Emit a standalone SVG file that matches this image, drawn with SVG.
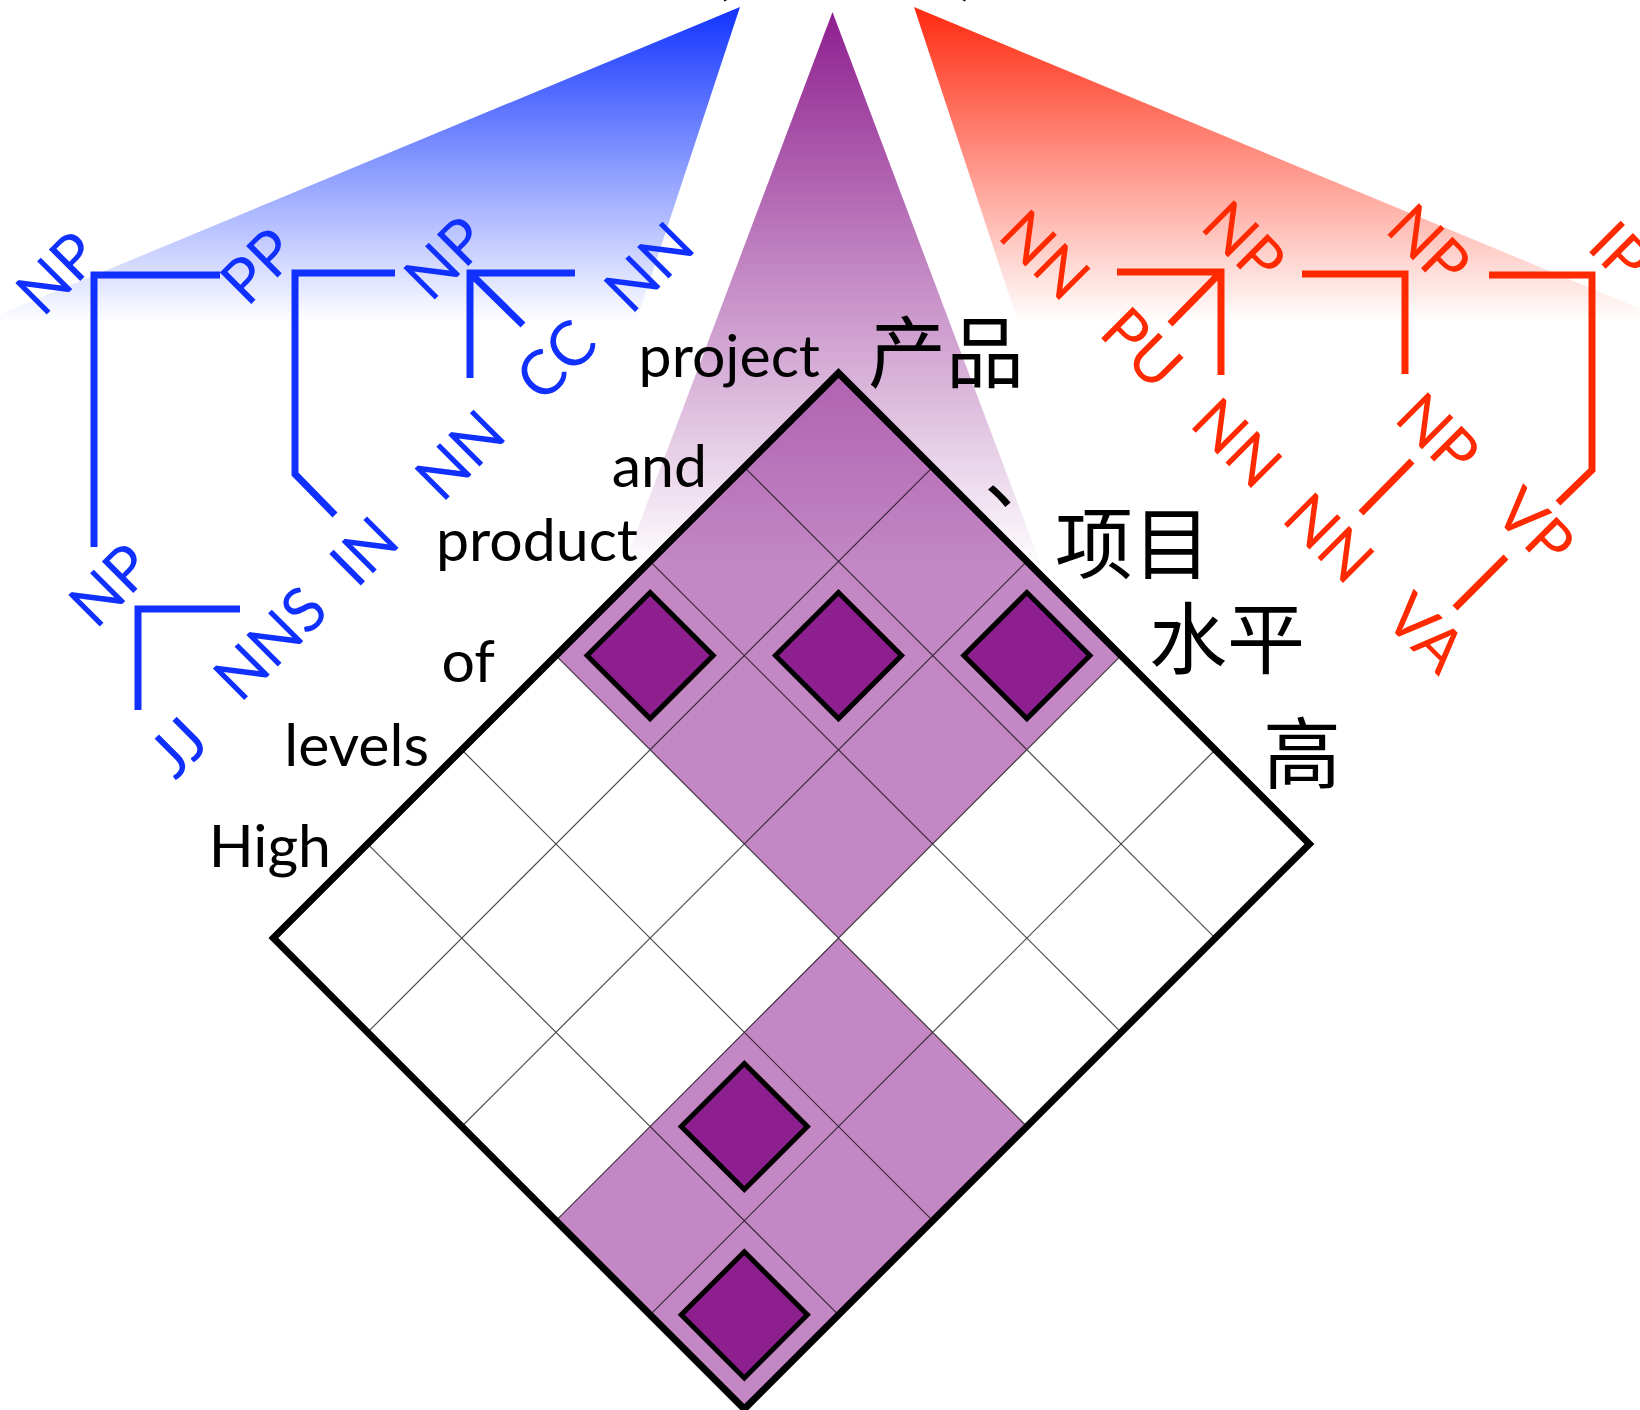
<svg xmlns="http://www.w3.org/2000/svg" width="1640" height="1410" viewBox="0 0 1640 1410">
<defs>
<linearGradient id="gBlue" gradientUnits="userSpaceOnUse" x1="0" y1="7" x2="0" y2="322">
<stop offset="0" stop-color="#1133FF"/>
<stop offset="1" stop-color="#1133FF" stop-opacity="0"/>
</linearGradient>
<linearGradient id="gRed" gradientUnits="userSpaceOnUse" x1="0" y1="7" x2="0" y2="322">
<stop offset="0" stop-color="#FF2A10"/>
<stop offset="1" stop-color="#FF2A10" stop-opacity="0"/>
</linearGradient>
<linearGradient id="gPurple" gradientUnits="userSpaceOnUse" x1="0" y1="12" x2="0" y2="570">
<stop offset="0" stop-color="#8E1F8F"/>
<stop offset="1" stop-color="#8E1F8F" stop-opacity="0"/>
</linearGradient>
</defs>
<style>
.bl{fill:#1030FF;font-family:Lato,"Liberation Sans",sans-serif;font-size:62px;text-anchor:middle}
.rd{fill:#FF2A00;font-family:Lato,"Liberation Sans",sans-serif;font-size:62px;text-anchor:middle}
.bline{stroke:#1030FF;stroke-width:7;fill:none;stroke-linejoin:miter;stroke-linecap:butt}
.rline{stroke:#FF2A00;stroke-width:7;fill:none;stroke-linejoin:miter;stroke-linecap:butt}
.word{fill:#000;font-family:Lato,"Liberation Sans",sans-serif;font-size:59px;text-anchor:end}
.zh{fill:#000;font-family:"Noto Sans CJK SC","Noto Sans CJK JP",sans-serif;font-size:78px}
.paren{fill:#000;font-family:Lato,"Liberation Sans",sans-serif;font-size:58px}
.blk{fill:#8E1F8F;fill-opacity:0.53}
.gl{stroke:#000;stroke-opacity:0.7;stroke-width:1.2;fill:none}
.dark{fill:#8E1F8F;stroke:#000;stroke-width:5;stroke-linejoin:miter}
.border{fill:none;stroke:#000;stroke-width:7;stroke-linejoin:miter}
</style>
<rect width="1640" height="1410" fill="#fff"/>

<g id="fans">
<polygon id="fan-en" points="740,7 636,322 -18,322" fill="url(#gBlue)"/>
<polygon id="fan-align" points="832.5,12 622,570 1043,570" fill="url(#gPurple)"/>
<polygon id="fan-zh" points="914,7 1018,322 1672,322" fill="url(#gRed)"/>
</g>

<text class="paren" x="714" y="-7">(</text>
<text class="paren" x="960" y="-7">)</text>

<g id="connectors">
<path class="bline" d="M220,275 H94 V547"/>
<path class="bline" d="M395,273 H295 V474 L335,515"/>
<path class="bline" d="M575,273 H470 V378 M470,273 L523,325"/>
<path class="bline" d="M240,609 H138 V710"/>
<path class="rline" d="M1117,272 H1221 V375 M1221,272 L1170,324"/>
<path class="rline" d="M1302,274 H1405 V374"/>
<path class="rline" d="M1412,461 L1361,513"/>
<path class="rline" d="M1489,275 H1592 V470 L1558,503"/>
<path class="rline" d="M1506,557 L1455,608"/>
</g>

<g id="en-NP-top"><text class="bl" transform="translate(57,273) rotate(-45)" y="22">NP</text></g>
<g id="en-PP"><text class="bl" transform="translate(258,266) rotate(-45)" y="22">PP</text></g>
<g id="en-NP-mid"><text class="bl" transform="translate(445,258) rotate(-45)" y="22">NP</text></g>
<g id="en-NN-top"><text class="bl" transform="translate(649,267) rotate(-45)" y="22">NN</text></g>
<g id="en-CC"><text class="bl" transform="translate(556,360) rotate(-45)" y="22">CC</text></g>
<g id="en-NN-low"><text class="bl" transform="translate(460,455) rotate(-45)" y="22">NN</text></g>
<g id="en-IN"><text class="bl" transform="translate(364,551) rotate(-45)" y="22">IN</text></g>
<g id="en-NP-low"><text class="bl" transform="translate(110,585) rotate(-45)" y="22">NP</text></g>
<g id="en-NNS"><text class="bl" transform="translate(270,643) rotate(-45)" y="22">NNS</text></g>
<g id="en-JJ"><text class="bl" transform="translate(178,747) rotate(-45)" y="22">JJ</text></g>

<g id="zh-NN-top"><text class="rd" transform="translate(1045,255) rotate(45)" y="22">NN</text></g>
<g id="zh-NP-1"><text class="rd" transform="translate(1244,242) rotate(45)" y="22">NP</text></g>
<g id="zh-NP-2"><text class="rd" transform="translate(1429,245) rotate(45)" y="22">NP</text></g>
<g id="zh-IP"><text class="rd" transform="translate(1620,252) rotate(45)" y="22">IP</text></g>
<g id="zh-PU"><text class="rd" transform="translate(1142,348) rotate(45)" y="22">PU</text></g>
<g id="zh-NN-1"><text class="rd" transform="translate(1237,443) rotate(45)" y="22">NN</text></g>
<g id="zh-NP-3"><text class="rd" transform="translate(1438,434) rotate(45)" y="22">NP</text></g>
<g id="zh-NN-2"><text class="rd" transform="translate(1329,538) rotate(45)" y="22">NN</text></g>
<g id="zh-VP"><text class="rd" transform="translate(1535,527) rotate(45)" y="22">VP</text></g>
<g id="zh-VA"><text class="rd" transform="translate(1426,633) rotate(45)" y="22">VA</text></g>

<g id="grid" transform="translate(838.5,373) rotate(45)">
<rect class="blk" x="0" y="0" width="399.6" height="399.6"/>
<rect class="blk" x="399.6" y="399.6" width="266.4" height="399.6"/>
<path class="gl" d="M133.2,0V799.2M266.4,0V799.2M399.6,0V799.2M532.8,0V799.2M0,133.2H666M0,266.4H666M0,399.6H666M0,532.8H666M0,666H666"/>
<rect class="dark" x="22" y="288.4" width="89.2" height="89.2"/>
<rect class="dark" x="155.2" y="155.2" width="89.2" height="89.2"/>
<rect class="dark" x="288.4" y="22" width="89.2" height="89.2"/>
<rect class="dark" x="421.6" y="554.8" width="89.2" height="89.2"/>
<rect class="dark" x="554.8" y="688" width="89.2" height="89.2"/>
<rect class="border" x="0" y="0" width="666" height="799.2"/>
</g>

<g id="words-en">
<text class="word" x="820" y="377">project</text>
<text class="word" x="707" y="487">and</text>
<text class="word" x="638" y="561">product</text>
<text class="word" x="495" y="682">of</text>
<text class="word" x="429" y="766">levels</text>
<text class="word" x="331" y="867">High</text>
</g>
<g id="words-zh">
<text class="zh" x="868" y="382">产品</text>
<text class="zh" x="984" y="503">、</text>
<text class="zh" x="1055" y="573">项目</text>
<text class="zh" x="1149" y="668">水平</text>
<text class="zh" x="1263" y="783">高</text>
</g>
</svg>
